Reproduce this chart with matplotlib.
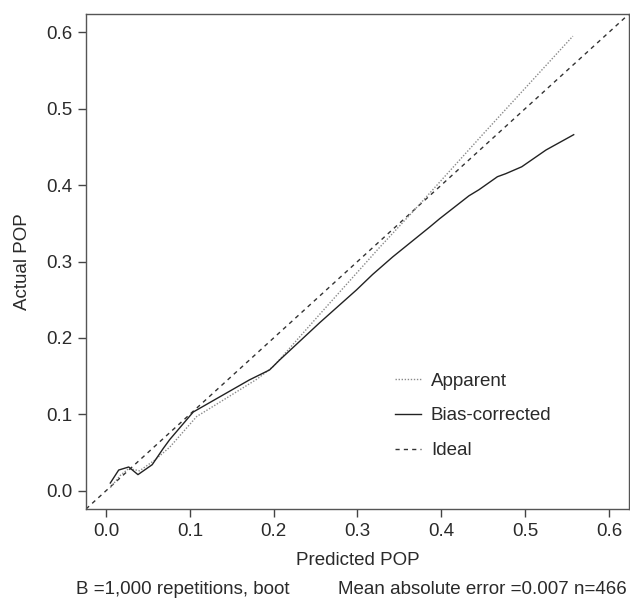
import matplotlib
matplotlib.use("Agg")
import matplotlib.pyplot as plt
from matplotlib.lines import Line2D

plt.rcParams['font.family'] = ['Liberation Sans', 'DejaVu Sans']

# Apparent calibration curve
app_x = [0.005, 0.017, 0.027, 0.040, 0.058, 0.076, 0.108, 0.136, 0.180, 0.200,
         0.255, 0.326, 0.365, 0.380, 0.450, 0.557]
app_y = [0.004, 0.020, 0.029, 0.026, 0.040, 0.057, 0.097, 0.116, 0.146, 0.163,
         0.231, 0.318, 0.364, 0.382, 0.467, 0.595]

# Bias-corrected calibration curve
bc_x = [0.005, 0.015, 0.027, 0.038, 0.055, 0.068, 0.076, 0.104, 0.171, 0.195,
        0.207, 0.255, 0.299, 0.318, 0.342, 0.386, 0.398, 0.433, 0.445, 0.467,
        0.477, 0.496, 0.525, 0.558]
bc_y = [0.010, 0.027, 0.031, 0.021, 0.034, 0.055, 0.067, 0.103, 0.145, 0.158,
        0.171, 0.220, 0.263, 0.283, 0.306, 0.345, 0.356, 0.386, 0.394, 0.411,
        0.415, 0.424, 0.446, 0.466]

ideal = [-0.024, 0.624]

x_ticks = [0.0, 0.1, 0.2, 0.3, 0.4, 0.5, 0.6]
y_ticks = [0.0, 0.1, 0.2, 0.3, 0.4, 0.5, 0.6]

left_note = "B =1,000 repetitions, boot"
right_note = "Mean absolute error =0.007 n=466"

txt = '#2a2a2a'
fs = 13.5

fig = plt.figure(figsize=(6.3, 6.0), dpi=100)
ax = fig.add_axes([86/630, 1-509/600, (629-86)/630, (509-14)/600])

ax.plot(ideal, ideal, color='#333333', lw=1.0, linestyle=(0, (3, 3)), label='Ideal')
ax.plot(app_x, app_y, color='#8a8a8a', lw=1.0, linestyle=(0, (1, 1.2)), label='Apparent')
ax.plot(bc_x, bc_y, color='#222222', lw=1.0, linestyle='-', label='Bias-corrected')

ax.set_xlim(-0.024, 0.624)
ax.set_ylim(-0.024, 0.624)
ax.set_xticks(x_ticks)
ax.set_yticks(y_ticks)
ax.set_xticklabels([f"{v:.1f}" for v in x_ticks])
ax.set_yticklabels([f"{v:.1f}" for v in y_ticks])
ax.tick_params(direction='out', length=6, width=1.0, color='#444444',
               labelsize=fs, labelcolor=txt, pad=4)
for s in ax.spines.values():
    s.set_color('#555555')
    s.set_linewidth(1.0)

ax.set_xlabel('Predicted POP', fontsize=fs, color=txt, labelpad=9)
ax.set_ylabel('Actual POP', fontsize=fs, color=txt, labelpad=11)

handles = [
    Line2D([], [], color='#8a8a8a', lw=1.0, linestyle=(0, (1, 1.2))),
    Line2D([], [], color='#222222', lw=1.0, linestyle='-'),
    Line2D([], [], color='#333333', lw=1.0, linestyle=(0, (3, 3))),
]
leg = ax.legend(handles, ['Apparent', 'Bias-corrected', 'Ideal'],
                loc='upper left', bbox_to_anchor=((386-86)/543, 1-(363-14)/495),
                frameon=False, fontsize=fs, handlelength=1.35, handletextpad=0.55,
                labelspacing=0.95, borderpad=0)
for t in leg.get_texts():
    t.set_color(txt)

fig.text(76/630, 1-589/600, left_note, fontsize=fs, color=txt, ha='left', va='center')
fig.text(627/630, 1-589/600, right_note, fontsize=fs, color=txt, ha='right', va='center')

fig.savefig('out.png', dpi=100)
